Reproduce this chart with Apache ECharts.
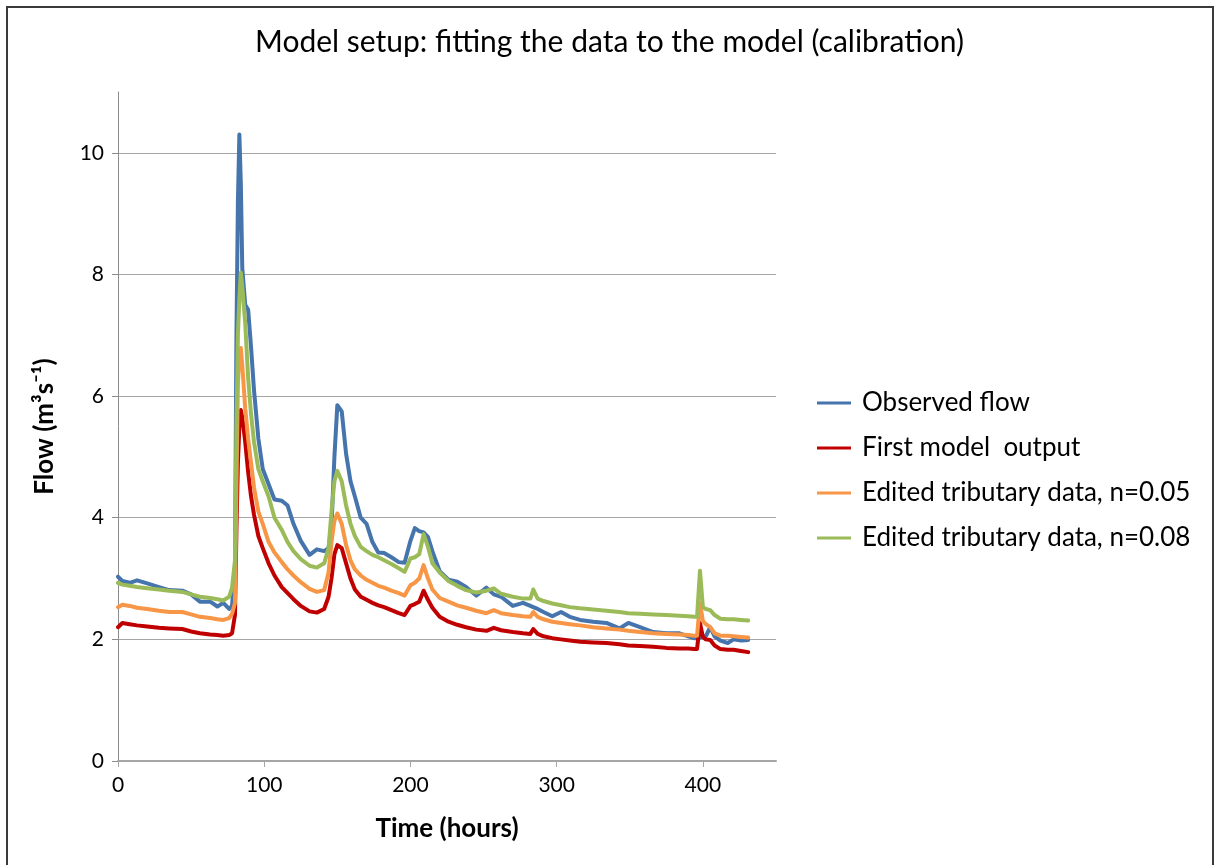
<!DOCTYPE html>
<html>
<head>
<meta charset="utf-8">
<script src="https://cdn.jsdelivr.net/npm/echarts@6/dist/echarts.min.js"></script>
<style>
  html, body { margin: 0; padding: 0; background: #fff; }
  #chart { width: 1219px; height: 865px; }
</style>
</head>
<body>
<div id="chart"></div>
<script>
// time points (hours), shared by all four series
const hours = [0, 3, 8, 13, 20, 28, 35, 44, 50, 56, 63, 68, 72, 76, 78, 80, 81, 82, 83, 84,
  85, 87, 89, 91, 93, 96, 99, 103, 107, 112, 116, 120, 125, 131, 136, 141, 144, 146, 148, 150,
  151, 153, 156, 159, 162, 166, 170, 174, 178, 182, 187, 192, 196, 200, 203, 206, 209, 212, 215, 220,
  226, 232, 238, 245, 252, 257, 262, 270, 277, 282, 284, 287, 291, 297, 303, 309, 316, 325, 334, 343,
  349, 357, 366, 375, 384, 390, 394, 396, 398, 400, 402, 405, 408, 412, 417, 421, 426, 431];

const observed = [3.03, 2.96, 2.93, 2.97, 2.92, 2.86, 2.81, 2.80, 2.74, 2.62, 2.62, 2.54, 2.60, 2.50, 2.55, 3.2, 7.0, 9.2, 10.3, 9.5,
  8.1, 7.5, 7.42, 6.8, 6.1, 5.3, 4.8, 4.55, 4.3, 4.28, 4.2, 3.9, 3.62, 3.39, 3.48, 3.45, 3.5, 3.85, 5.0, 5.85,
  5.88, 5.75, 5.05, 4.6, 4.35, 4.0, 3.9, 3.6, 3.43, 3.42, 3.35, 3.27, 3.26, 3.62, 3.83, 3.78, 3.76, 3.68, 3.45, 3.12,
  2.98, 2.95, 2.86, 2.72, 2.85, 2.74, 2.7, 2.55, 2.6, 2.55, 2.53, 2.5, 2.45, 2.38, 2.45, 2.37, 2.32, 2.29, 2.27, 2.18,
  2.27, 2.2, 2.12, 2.1, 2.1, 2.05, 2.02, 2.02, 2.03, 2.05, 2.05, 2.2, 2.05, 1.98, 1.94, 2.0, 1.98, 1.99];

const firstModel = [2.2, 2.27, 2.25, 2.23, 2.21, 2.19, 2.18, 2.17, 2.13, 2.10, 2.08, 2.07, 2.06, 2.07, 2.1, 2.4, 3.8, 4.9, 5.5, 5.77,
  5.65, 5.25, 4.75, 4.35, 4.05, 3.7, 3.5, 3.25, 3.05, 2.86, 2.76, 2.66, 2.55, 2.46, 2.44, 2.5, 2.7, 3.0, 3.4, 3.55,
  3.56, 3.5, 3.25, 3.0, 2.82, 2.7, 2.65, 2.6, 2.56, 2.53, 2.48, 2.43, 2.40, 2.55, 2.58, 2.62, 2.8, 2.65, 2.52, 2.37,
  2.29, 2.24, 2.2, 2.16, 2.14, 2.19, 2.15, 2.12, 2.1, 2.09, 2.17, 2.09, 2.05, 2.02, 2.0, 1.98, 1.96, 1.95, 1.94, 1.92,
  1.9, 1.89, 1.88, 1.86, 1.85, 1.85, 1.84, 1.84, 2.27, 2.04, 2.0, 1.99, 1.9, 1.84, 1.83, 1.83, 1.81, 1.79];

const editedN005 = [2.53, 2.57, 2.55, 2.52, 2.5, 2.47, 2.45, 2.45, 2.41, 2.37, 2.35, 2.33, 2.32, 2.35, 2.42, 2.6, 4.5, 6.2, 6.7, 6.79,
  6.5, 5.8, 5.3, 4.9, 4.5, 4.1, 3.9, 3.6, 3.43, 3.27, 3.15, 3.05, 2.94, 2.83, 2.78, 2.81, 3.1, 3.6, 3.95, 4.07,
  4.06, 3.9, 3.55, 3.3, 3.15, 3.05, 2.98, 2.93, 2.88, 2.85, 2.8, 2.76, 2.72, 2.89, 2.93, 3.0, 3.22, 3.0, 2.82, 2.68,
  2.62, 2.56, 2.52, 2.47, 2.43, 2.48, 2.43, 2.4, 2.38, 2.37, 2.45, 2.37, 2.33, 2.29, 2.27, 2.25, 2.23, 2.2, 2.18, 2.16,
  2.14, 2.12, 2.1, 2.09, 2.08, 2.07, 2.06, 2.06, 2.6, 2.3, 2.25, 2.2, 2.1, 2.06, 2.06, 2.05, 2.04, 2.03];

const editedN008 = [2.93, 2.9, 2.88, 2.86, 2.84, 2.82, 2.8, 2.78, 2.74, 2.7, 2.68, 2.66, 2.64, 2.7, 2.85, 3.3, 5.5, 7.0, 7.6, 8.03,
  7.8, 7.2, 6.3, 5.7, 5.25, 4.8, 4.6, 4.35, 4.0, 3.8, 3.6, 3.45, 3.32, 3.21, 3.18, 3.25, 3.5, 4.1, 4.6, 4.77,
  4.75, 4.6, 4.2, 3.9, 3.7, 3.52, 3.45, 3.39, 3.35, 3.3, 3.24, 3.17, 3.11, 3.33, 3.35, 3.4, 3.73, 3.52, 3.25, 3.1,
  2.96, 2.88, 2.81, 2.77, 2.8, 2.84, 2.75, 2.7, 2.67, 2.67, 2.82, 2.67, 2.63, 2.59, 2.56, 2.53, 2.51, 2.49, 2.47, 2.45,
  2.43, 2.42, 2.41, 2.4, 2.39, 2.38, 2.37, 2.37, 3.13, 2.53, 2.5, 2.48, 2.4, 2.34, 2.33, 2.33, 2.32, 2.31];

const seriesNames = ['Observed flow', 'First model  output', 'Edited tributary data, n=0.05', 'Edited tributary data, n=0.08'];
const seriesColors = ['#4674AC', '#C00000', '#F79646', '#9BBB59'];
const seriesValues = [observed, firstModel, editedN005, editedN008];

const FONT = 'Lato, "Open Sans", sans-serif';

const chart = echarts.init(document.getElementById('chart'), null, { renderer: 'canvas' });

chart.setOption({
  animation: false,
  backgroundColor: '#fff',
  title: {
    text: 'Model setup: fitting the data to the model (calibration)',
    left: 'center',
    top: 22,
    textStyle: { fontFamily: FONT, fontSize: 30, fontWeight: 'normal', color: '#000' }
  },
  graphic: [{
    type: 'rect',
    shape: { x: 7, y: 7, width: 1206, height: 900 },
    style: { fill: 'none', stroke: '#3a3a3a', lineWidth: 2 },
    silent: true
  }],
  legend: {
    orient: 'vertical',
    left: 812,
    top: 385,
    itemWidth: 34,
    itemHeight: 3,
    itemGap: 19,
    icon: 'rect',
    textStyle: { fontFamily: FONT, fontSize: 26, color: '#000', lineHeight: 26, padding: [0, 0, 0, 6] },
    data: seriesNames
  },
  grid: { left: 118, right: 443, top: 92, bottom: 104, containLabel: false },
  xAxis: {
    type: 'value',
    min: 0,
    max: 450,
    interval: 100,
    name: 'Time (hours)',
    nameLocation: 'middle',
    nameGap: 55,
    nameTextStyle: { fontFamily: FONT, fontSize: 26, fontWeight: 'bold', color: '#000' },
    axisLine: { lineStyle: { color: '#a6a6a6', width: 2 } },
    axisTick: { show: true, length: 6, lineStyle: { color: '#a6a6a6' } },
    axisLabel: { fontFamily: FONT, fontSize: 21, color: '#000', margin: 14, showMaxLabel: false },
    splitLine: { show: false }
  },
  yAxis: {
    type: 'value',
    min: 0,
    max: 11,
    interval: 2,
    name: 'Flow (m³s⁻¹)',
    nameLocation: 'middle',
    nameRotate: 90,
    nameGap: 60,
    nameTextStyle: { fontFamily: FONT, fontSize: 26, fontWeight: 'bold', color: '#000' },
    axisLine: { show: true, lineStyle: { color: '#8c8c8c', width: 1 } },
    axisTick: { show: true, length: 6, lineStyle: { color: '#8c8c8c' } },
    axisLabel: { fontFamily: FONT, fontSize: 21, color: '#000', margin: 14, showMaxLabel: false },
    splitLine: {
      show: true,
      lineStyle: { color: ['#a6a6a6', '#a6a6a6', '#a6a6a6', '#a6a6a6', '#a6a6a6', '#a6a6a6', 'rgba(0,0,0,0)'], width: 1 }
    }
  },
  series: seriesNames.map((name, i) => ({
    name: name,
    type: 'line',
    showSymbol: false,
    symbol: 'none',
    color: seriesColors[i],
    lineStyle: { width: 4, color: seriesColors[i], join: 'round', cap: 'round' },
    data: hours.map((h, j) => [h, seriesValues[i][j]])
  }))
});
</script>
</body>
</html>
